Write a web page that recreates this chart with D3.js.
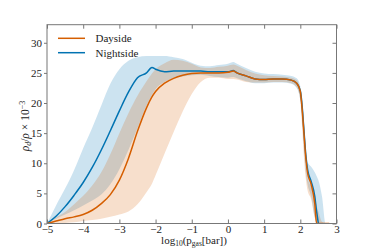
<!DOCTYPE html>
<meta charset="utf-8">
<style>
  body { margin: 0; background: #fff; }
  text { font-family: "Liberation Serif", "DejaVu Serif", serif; fill: #222; }
  .spine { stroke: #777; stroke-width: 1; fill: none; }
  .tick line { stroke: #777; }
</style>
<svg width="374" height="249"></svg>
<script src="https://d3js.org/d3.v7.min.js"></script>
<script>
  // log10 pressure grid
  var logP = [-5, -4.75, -4.5, -4.25, -4, -3.75, -3.5, -3.25, -3, -2.75, -2.5, -2.25, -2.1, -2,
    -1.75, -1.5, -1.25, -1, -0.75, -0.5, -0.25, 0, 0.15, 0.25, 0.5, 0.75, 1, 1.25, 1.5, 1.75,
    1.9, 2, 2.05, 2.1, 2.15, 2.2, 2.3, 2.4, 2.45, 2.5, 2.6, 2.7, 2.8];

  var dayMid = [0, 0.4, 0.8, 1.1, 1.5, 2.2, 3.3, 4.8, 7.2, 10.8, 15.3, 19.2, 21.0, 21.9,
    23.3, 24.1, 24.6, 24.9, 25.0, 25.0, 25.0, 25.1, 25.3, 25.0, 24.5, 24.0, 23.9, 24.0, 24.0, 23.8,
    23.3, 21.9, 19.0, 15.0, 11.0, 8.4, 6.5, 3.3, 0, 0, 0, 0, 0];
  var dayLo = [0, 0, 0.1, 0.2, 0.4, 0.6, 0.8, 1.1, 1.5, 2.0, 3.2, 5.2, 6.6, 8.0,
    11.6, 15.2, 18.6, 21.5, 23.5, 24.2, 24.2, 24.0, 24.0, 23.9, 23.5, 23.4, 23.4, 23.5, 23.5, 23.3,
    22.6, 20.5, 16.0, 11.0, 7.5, 5.5, 4.0, 1.0, 0, 0, 0, 0, 0];
  var dayHi = [0, 1.0, 1.9, 3.2, 4.6, 6.3, 8.5, 11.5, 15.0, 18.3, 21.2, 23.6, 24.9, 25.6,
    26.6, 27.2, 27.0, 26.5, 25.9, 25.8, 26.0, 26.2, 26.4, 26.2, 25.5, 24.9, 24.6, 24.5, 24.4, 24.2,
    23.8, 22.0, 19.5, 14.0, 9.5, 7.5, 6.2, 4.5, 3.0, 2.0, 0.3, 0, 0];

  var nightMid = [0, 1.2, 2.8, 4.7, 6.8, 9.3, 12.2, 15.4, 18.7, 21.8, 24.2, 25.0, 25.9, 25.6,
    25.2, 25.3, 25.3, 25.3, 25.3, 25.2, 25.2, 25.2, 25.4, 25.0, 24.5, 24.0, 23.9, 24.0, 24.0, 23.8,
    23.3, 22.0, 19.5, 15.5, 11.5, 9.0, 7.0, 4.5, 2.0, 0, null, null, null];
  var nightLo = [0, 0.8, 1.5, 2.2, 3.0, 3.8, 4.8, 6.5, 9.0, 12.2, 15.8, 19.6, 21.3, 22.3,
    23.5, 24.1, 24.4, 24.6, 24.7, 24.5, 24.3, 24.2, 24.3, 24.1, 23.6, 23.3, 23.3, 23.4, 23.4, 23.2,
    22.5, 20.5, 17.0, 12.5, 8.5, 6.5, 4.5, 1.0, 0, 0, 0, 0, 0];
  var nightHi = [0, 3.0, 5.8, 8.9, 12.5, 15.9, 19.6, 23.2, 25.6, 27.0, 27.6, 27.8, 27.8, 27.8,
    27.8, 27.6, 27.3, 26.7, 26.2, 26.1, 26.3, 26.5, 26.8, 26.5, 25.8, 25.2, 24.9, 24.8, 24.7, 24.5,
    24.1, 22.8, 21.0, 17.0, 13.0, 10.2, 9.4, 8.5, 7.9, 7.2, 4.5, 0, 0];

  var xTicks = [-5, -4, -3, -2, -1, 0, 1, 2, 3];
  var yTicks = [0, 5, 10, 15, 20, 25, 30];

  var night = { name: "Nightside", color: "#0173b2", mid: nightMid, lo: nightLo, hi: nightHi };
  var day = { name: "Dayside", color: "#d55e00", mid: dayMid, lo: dayLo, hi: dayHi };

  var svg = d3.select("svg");
  var mLeft = 47, mRight = 336.5, mTop = 24.7, mBottom = 223.5;
  var serif = "'Liberation Serif', 'DejaVu Serif', serif";

  var x = d3.scaleLinear().domain([-5, 3]).range([mLeft, mRight]);
  var y = d3.scaleLinear().domain([0, 33]).range([mBottom, mTop]);

  svg.append("clipPath").attr("id", "clip")
    .append("rect").attr("x", mLeft).attr("y", mTop)
    .attr("width", mRight - mLeft).attr("height", mBottom - mTop);

  var plot = svg.append("g").attr("clip-path", "url(#clip)");

  [night, day].forEach(function(s) {
    var area = d3.area()
      .x(function(d, i) { return x(logP[i]); })
      .y0(function(d, i) { return y(s.lo[i]); })
      .y1(function(d, i) { return y(s.hi[i]); })
      .curve(d3.curveMonotoneX);
    plot.append("path")
      .attr("d", area(logP))
      .attr("fill", s.color)
      .attr("fill-opacity", 0.2);
  });

  [night, day].forEach(function(s) {
    var line = d3.line()
      .defined(function(d, i) { return s.mid[i] != null; })
      .x(function(d, i) { return x(logP[i]); })
      .y(function(d, i) { return y(s.mid[i]); })
      .curve(d3.curveMonotoneX);
    plot.append("path")
      .attr("d", line(logP))
      .attr("fill", "none")
      .attr("stroke", s.color)
      .attr("stroke-width", 1.5);
  });

  // axes
  var fmt = d3.format("d");
  svg.append("g").attr("transform", "translate(0," + mBottom + ")")
    .call(d3.axisBottom(x).tickValues(xTicks).tickSizeInner(-4).tickSizeOuter(0).tickPadding(2).tickFormat(fmt))
    .attr("font-family", serif).attr("font-size", 11)
    .call(function(g) { g.select(".domain").remove(); });

  svg.append("g").attr("transform", "translate(0," + mTop + ")")
    .call(d3.axisTop(x).tickValues(xTicks).tickSizeInner(-4).tickSizeOuter(0).tickFormat(""))
    .call(function(g) { g.select(".domain").remove(); });

  svg.append("g").attr("transform", "translate(" + mLeft + ",0)")
    .call(d3.axisLeft(y).tickValues(yTicks).tickSizeInner(3).tickSizeOuter(0).tickPadding(2).tickFormat(fmt))
    .attr("font-family", serif).attr("font-size", 11)
    .call(function(g) { g.select(".domain").remove(); });

  svg.append("g").attr("transform", "translate(" + mRight + ",0)")
    .call(d3.axisRight(y).tickValues(yTicks).tickSizeInner(-4).tickSizeOuter(0).tickFormat(""))
    .call(function(g) { g.select(".domain").remove(); });

  svg.append("rect").attr("class", "spine")
    .attr("x", mLeft).attr("y", mTop)
    .attr("width", mRight - mLeft).attr("height", mBottom - mTop);

  // legend
  var legend = svg.append("g");
  [day, night].forEach(function(s, i) {
    var ly = 38.3 + i * 14.4;
    legend.append("line")
      .attr("x1", 58).attr("x2", 85).attr("y1", ly).attr("y2", ly)
      .attr("stroke", s.color).attr("stroke-width", 1.5);
    legend.append("text")
      .attr("x", 95.5).attr("y", ly + 3.8)
      .attr("font-size", 11)
      .text(s.name);
  });

  // axis labels
  var xl = svg.append("text")
    .attr("x", 194).attr("y", 244)
    .attr("text-anchor", "middle")
    .attr("font-size", 11);
  xl.append("tspan").text("log");
  xl.append("tspan").attr("font-size", 7.5).attr("dy", 2).text("10");
  xl.append("tspan").attr("dy", -2).text("(p");
  xl.append("tspan").attr("font-size", 7.5).attr("dy", 2).text("gas");
  xl.append("tspan").attr("dy", -2).text("[bar])");

  var yl = svg.append("text")
    .attr("transform", "translate(29," + ((mTop + mBottom) / 2 + 2) + ") rotate(-90)")
    .attr("text-anchor", "middle")
    .attr("font-size", 11.5);
  yl.append("tspan").attr("font-style", "italic").text("ρ");
  yl.append("tspan").attr("font-style", "italic").attr("font-size", 8).attr("dy", 2).text("d");
  yl.append("tspan").attr("dy", -2).text("/");
  yl.append("tspan").attr("font-style", "italic").text("ρ");
  yl.append("tspan").text(" × 10");
  yl.append("tspan").attr("font-size", 8).attr("dy", -4.5).text("−3");
</script>
